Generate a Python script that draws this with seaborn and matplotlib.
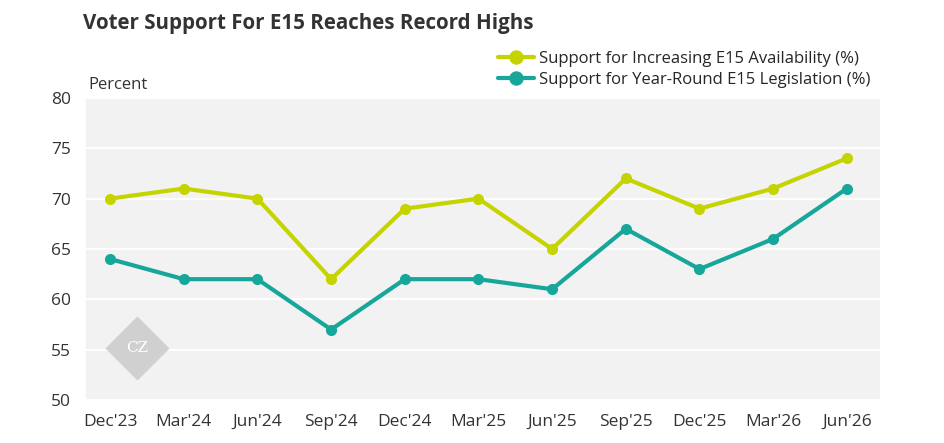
import matplotlib
matplotlib.use("Agg")
import matplotlib.pyplot as plt
import seaborn as sns
import pandas as pd

quarters = ["Dec'23", "Mar'24", "Jun'24", "Sep'24", "Dec'24", "Mar'25",
            "Jun'25", "Sep'25", "Dec'25", "Mar'26", "Jun'26"]
availability = [70, 71, 70, 62, 69, 70, 65, 72, 69, 71, 74]
year_round = [64, 62, 62, 57, 62, 62, 61, 67, 63, 66, 71]

sns.set_theme(style="darkgrid", rc={"axes.facecolor": "#f2f2f2", "grid.color": "white",
                                    "grid.linewidth": 1.3})
plt.rcParams["font.family"] = ["Open Sans", "DejaVu Sans"]

df = pd.DataFrame({"x": list(range(len(quarters))) * 2,
                   "value": availability + year_round,
                   "series": ["Support for Increasing E15 Availability (%)"] * len(quarters)
                   + ["Support for Year-Round E15 Legislation (%)"] * len(quarters)})

fig = plt.figure(figsize=(9.45, 4.43), dpi=100)
ax = fig.add_axes([0.09, 0.097, 0.842, 0.682])
sns.lineplot(data=df, x="x", y="value", hue="series", marker="o", markersize=8,
             markeredgewidth=0, linewidth=3, palette=["#c5d400", "#16a69a"], ax=ax)

ax.set_xlim(-0.34, 10.46)
ax.set_ylim(50, 80)
ax.set_yticks(range(50, 81, 5))
ax.set_xticks(range(len(quarters)))
ax.set_xticklabels(quarters)
ax.xaxis.grid(False)
ax.tick_params(axis="both", labelsize=12.5, colors="#333333", pad=4)
ax.set_xlabel("")
ax.set_ylabel("")

ax.legend(loc="lower right", bbox_to_anchor=(1.0, 1.0), frameon=False, fontsize=12,
          handlelength=2.2, handletextpad=0.3, borderaxespad=0.2, labelspacing=0.3,
          markerscale=1.3)

fig.text(0.088, 0.935, "Voter Support For E15 Reaches Record Highs", fontsize=14.8,
         fontweight="bold", color="#333333")
fig.text(0.093, 0.80, "Percent", fontsize=12, color="#333333")

# watermark
ax.scatter([0.37], [55.2], marker="D", s=1000, color="#d0d0d0", zorder=1)
ax.text(0.37, 55.2, "CZ", ha="center", va="center", fontsize=11, color="white",
        family="DejaVu Serif", zorder=2)

fig.savefig("out.png", dpi=100)
